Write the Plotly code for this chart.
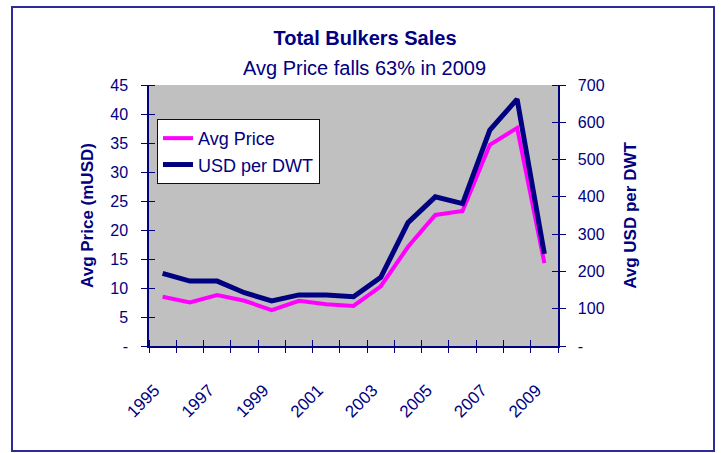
import plotly.graph_objects as go

years = [str(y) for y in range(1995, 2010)]
avg_price = [8.5, 7.5, 8.8, 7.8, 6.2, 7.8, 7.2, 6.9, 10.3, 17.1, 22.6, 23.3, 34.7, 37.6, 14.3]
usd_per_dwt = [195, 174, 174, 143, 121, 137, 137, 132, 184, 331, 400, 382, 579, 662, 247]

left_ticks = [0, 5, 10, 15, 20, 25, 30, 35, 40, 45]
left_text = ["-"] + [str(v) for v in left_ticks[1:]]
right_ticks = [0, 100, 200, 300, 400, 500, 600, 700]
right_text = ["-"] + [str(v) for v in right_ticks[1:]]

NAVY = "#000080"
PINK = "#FF00FF"
FONT = "Liberation Sans, Arial, sans-serif"
PAD = "\u00a0\u00a0"

x = list(range(len(years)))
bounds = [i - 0.5 for i in range(len(years) + 1)]
label_pos = x[::2]
label_text = years[::2]

fig = go.Figure()
fig.add_trace(go.Scatter(x=x, y=avg_price, name="Avg Price", mode="lines",
                         line=dict(color=PINK, width=4), xaxis="x", yaxis="y"))
fig.add_trace(go.Scatter(x=x, y=usd_per_dwt, name="USD per DWT", mode="lines",
                         line=dict(color=NAVY, width=5), xaxis="x2", yaxis="y2"))

tickfont = dict(family=FONT, size=16, color=NAVY)
xtickfont = dict(family=FONT, size=17, color=NAVY)
titlefont = dict(family=FONT, size=17, color=NAVY, weight="bold")

def cross_minor(vals):
    return dict(tickmode="array", tickvals=vals, ticks="inside",
                ticklen=6, tickcolor=NAVY, tickwidth=1.2, showgrid=False)

fig.update_layout(
    width=721, height=453,
    margin=dict(l=149, r=163, t=85, b=107),
    paper_bgcolor="white",
    plot_bgcolor="#C0C0C0",
    font=dict(family=FONT, color=NAVY),
    title=dict(text="<b>Total Bulkers Sales</b>", font=dict(family=FONT, size=20, color=NAVY),
               x=365 / 721, xref="container", xanchor="center",
               y=1 - 38 / 453, yref="container", yanchor="middle"),
    showlegend=True,
    legend=dict(x=0.0196, y=0.870, xanchor="left", yanchor="top",
                bgcolor="white", bordercolor=NAVY, borderwidth=1,
                font=dict(family=FONT, size=18, color=NAVY), tracegroupgap=0),
    xaxis=dict(range=[-0.5, 14.5], tickmode="array", tickvals=label_pos, ticktext=label_text,
               ticks="", tickangle=-45, ticklabelstandoff=26, ticklabelshift=-8,
               tickfont=xtickfont,
               showline=True, linecolor=NAVY, linewidth=1.5, showgrid=False, zeroline=False),
    xaxis2=dict(range=[-0.5, 14.5], overlaying="x", anchor="y", side="bottom",
                tickmode="array", tickvals=bounds, ticks="outside", ticklen=6,
                tickcolor=NAVY, tickwidth=1.2, showticklabels=False,
                showline=False, showgrid=False, zeroline=False, minor=cross_minor(bounds)),
    yaxis=dict(range=[0, 45], tickmode="array", tickvals=left_ticks, ticktext=left_text,
               ticks="outside", ticklen=6, tickcolor=NAVY, tickwidth=1.2, ticklabelstandoff=10,
               tickfont=tickfont, showline=True, linecolor=NAVY, linewidth=1.5,
               showgrid=False, zeroline=False, minor=cross_minor(left_ticks),
               title=dict(text="Avg Price (mUSD)", font=titlefont, standoff=12)),
    yaxis2=dict(range=[0, 700], overlaying="y", anchor="x", side="right",
                tickmode="array", tickvals=right_ticks, ticktext=[PAD + t for t in right_text],
                ticks="outside", ticklen=6, tickcolor=NAVY, tickwidth=1.2,
                tickfont=tickfont, showline=True, linecolor=NAVY, linewidth=1.5,
                showgrid=False, zeroline=False, minor=cross_minor(right_ticks),
                title=dict(text="Avg USD per DWT", font=titlefont, standoff=20)),
    annotations=[dict(text="Avg Price falls 63% in 2009", xref="paper", yref="paper",
                      x=0.528, y=1.065, xanchor="center", yanchor="middle", showarrow=False,
                      font=dict(family=FONT, size=20, color=NAVY))],
    shapes=[dict(type="rect", xref="paper", yref="paper",
                 x0=(12 - 149) / 409, x1=(714 - 149) / 409,
                 y0=(346 - 451) / 261, y1=(346 - 7) / 261,
                 line=dict(color="#2b2b9a", width=2), fillcolor="rgba(0,0,0,0)", layer="below")],
)

fig.write_html("out.html", config={"displayModeBar": False},
               post_script="document.body.style.margin='0';document.body.style.overflow='hidden';")
